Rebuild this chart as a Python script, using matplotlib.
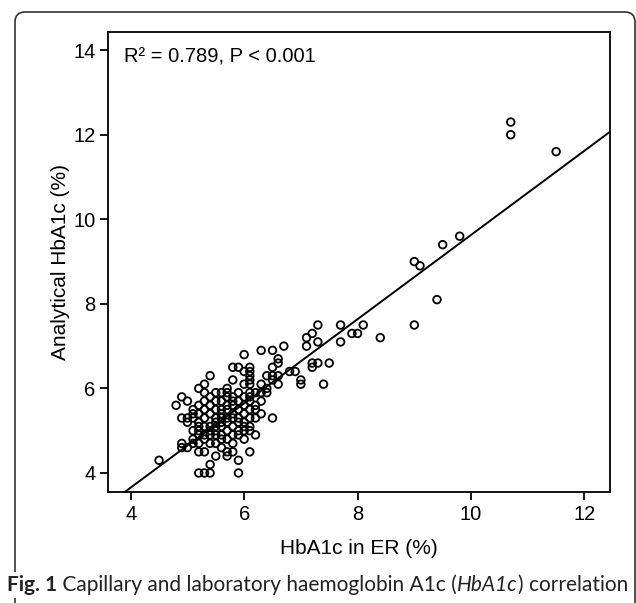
import matplotlib
matplotlib.use('Agg')
import matplotlib.pyplot as plt
from matplotlib.patches import FancyBboxPatch, Rectangle
from matplotlib.transforms import IdentityTransform

# ---- data ----
er_cols = [4.5, 4.8, 4.9, 5.0, 5.1, 5.2, 5.3, 5.4, 5.5, 5.6, 5.7, 5.8, 5.9, 6.0,
           6.1, 6.2, 6.3, 6.4, 6.5, 6.6, 6.7, 6.8, 6.9, 7.0, 7.1, 7.2, 7.3, 7.4,
           7.5, 7.7, 7.9, 8.0, 8.1, 8.4, 9.0, 9.1, 9.4, 9.5, 9.8, 10.7, 11.5]
lab_vals = [
    [4.3],
    [5.6],
    [5.8, 4.7, 4.6, 5.3],
    [5.7, 5.2, 4.6, 5.3],
    [5.4, 5.3, 5.0, 4.7, 4.8, 5.5],
    [6.0, 5.6, 5.4, 5.2, 5.0, 4.9, 4.7, 4.5, 4.0, 5.1],
    [6.1, 5.9, 5.5, 5.3, 5.1, 4.9, 4.8, 4.5, 4.0, 5.7],
    [6.3, 5.6, 5.4, 5.1, 5.0, 4.9, 4.7, 4.2, 4.0, 5.8],
    [5.7, 5.5, 5.3, 5.2, 5.0, 4.9, 4.7, 4.4, 5.9, 5.1],
    [5.9, 5.7, 5.5, 5.3, 5.2, 5.1, 4.9, 4.8, 4.6, 5.4],
    [6.0, 5.9, 5.6, 5.5, 5.3, 5.2, 5.0, 4.8, 4.5, 4.4, 5.8],
    [6.5, 6.2, 5.8, 5.6, 5.4, 5.3, 5.1, 4.9, 4.7, 4.5, 5.7],
    [6.5, 5.9, 5.7, 5.5, 5.3, 5.2, 5.0, 4.9, 4.3, 4.0],
    [6.8, 6.4, 6.1, 5.8, 5.6, 5.4, 5.2, 5.1, 5.0, 4.8],
    [6.5, 6.4, 6.3, 6.2, 6.1, 5.8, 5.7, 5.5, 5.3, 5.1, 5.0, 4.5, 5.9],
    [5.9, 5.6, 5.3, 4.9, 5.5],
    [6.9, 6.1, 5.7, 5.4, 5.9],
    [6.3, 5.9, 6.0],
    [6.9, 6.5, 6.3, 5.3, 6.2],
    [6.7, 6.6, 6.3, 6.1],
    [7.0],
    [6.4],
    [6.4],
    [6.2, 6.1],
    [7.2, 7.0],
    [7.3, 6.6, 6.5],
    [7.5, 7.1, 6.6],
    [6.1],
    [6.6],
    [7.5, 7.1],
    [7.3],
    [7.3],
    [7.5],
    [7.2],
    [9.0, 7.5],
    [8.9],
    [8.1],
    [9.4],
    [9.6],
    [12.3, 12.0],
    [11.6],
]
er_hba1c = [x for x, ys in zip(er_cols, lab_vals) for _ in ys]
lab_hba1c = [y for ys in lab_vals for y in ys]

fit_slope = 0.996
fit_intercept = -0.33
x_ticks = [4, 6, 8, 10, 12]
y_ticks = [4, 6, 8, 10, 12, 14]
xlim = (3.6, 12.45)
ylim = (3.55, 14.43)

plt.rcParams['font.family'] = ['Liberation Sans', 'DejaVu Sans']

W, H = 636, 603
fig = plt.figure(figsize=(W / 100, H / 100), dpi=100)
ax = fig.add_axes([108 / W, 1 - 492 / H, (610 - 108) / W, (492 - 32) / H])

ax.scatter(er_hba1c, lab_hba1c, s=30, facecolors='none', edgecolors='black',
           linewidths=1.3, zorder=3)
ax.plot(xlim, [fit_intercept + fit_slope * v for v in xlim], color='black',
        lw=1.4, zorder=2)
ax.set_xlim(*xlim)
ax.set_ylim(*ylim)
ax.set_xticks(x_ticks)
ax.set_yticks(y_ticks)
ax.tick_params(direction='out', length=6, width=1.3, labelsize=14.5, pad=3)
for sp in ax.spines.values():
    sp.set_linewidth(1.3)

fig.text(124 / W, 1 - 57 / H, 'R\u00b2 = 0.789, P < 0.001', fontsize=14.5,
         ha='left', va='center')
fig.text(359 / W, 1 - 549 / H, 'HbA1c in ER (%)', fontsize=15,
         ha='center', va='center')
fig.text(60 / W, 1 - 262 / H, 'Analytical HbA1c (%)', fontsize=15,
         rotation=90, ha='center', va='center')

# outer rounded frame
frame = FancyBboxPatch((15, -30), 620, H - 12 + 30,
                       boxstyle='round,pad=0,rounding_size=10',
                       transform=IdentityTransform(), fill=False,
                       edgecolor='#333333', lw=1.2, zorder=0)
fig.add_artist(frame)
# white band behind the caption
fig.add_artist(Rectangle((0, H - 598), 630, 26, transform=IdentityTransform(),
                         facecolor='white', edgecolor='none', zorder=1))

# caption built from pieces (bold / regular / italic)
cap_font = ['Lato', 'DejaVu Sans']
cap_size = 15.0
cap_color = '#222222'
pieces = [('Fig. 1', 'bold', 'normal'),
          (' Capillary and laboratory haemoglobin A1c (', 'normal', 'normal'),
          ('HbA1c', 'normal', 'italic'),
          (') correlation', 'normal', 'normal')]
renderer = fig.canvas.get_renderer()
xpix = 7.0
ybase = H - 591
for txt, wt, st in pieces:
    t = fig.text(xpix / W, ybase / H, txt, fontsize=cap_size, family=cap_font,
                 fontweight=wt, fontstyle=st, color=cap_color,
                 ha='left', va='baseline', zorder=5)
    bb = t.get_window_extent(renderer=renderer)
    xpix = bb.x1

fig.savefig('out.png', dpi=100)
